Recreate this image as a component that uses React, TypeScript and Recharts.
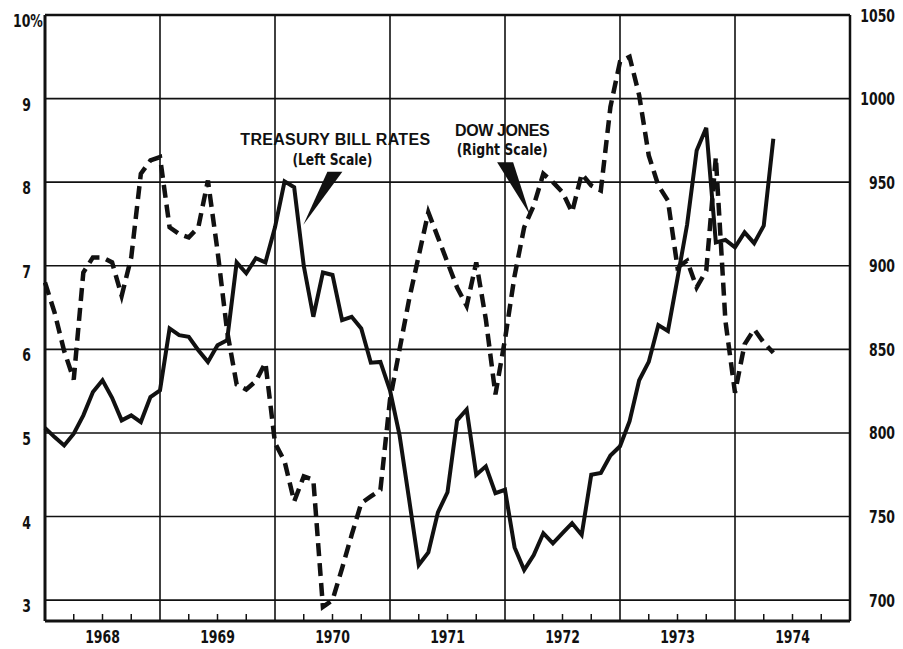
import { LineChart, Line, XAxis, YAxis, ReferenceLine, ReferenceDot } from 'recharts'

// monthly readings, Jan 1968 .. May 1974
const years = ['1968', '1969', '1970', '1971', '1972', '1973', '1974']

const treasuryRates = [
  5.06, 4.95, 4.85, 4.99, 5.21, 5.49, 5.63, 5.42, 5.15, 5.21, 5.13, 5.43,
  5.51, 6.25, 6.17, 6.15, 5.99, 5.85, 6.05, 6.11, 7.04, 6.91, 7.09, 7.04,
  7.46, 8.01, 7.94, 7.0, 6.39, 6.92, 6.89, 6.35, 6.39, 6.25, 5.84, 5.85,
  5.51, 4.97, 4.2, 3.42, 3.57, 4.05, 4.29, 5.15, 5.28, 4.5, 4.6, 4.28,
  4.32, 3.63, 3.36, 3.54, 3.8, 3.68, 3.8, 3.92, 3.78, 4.5, 4.52, 4.73,
  4.84, 5.14, 5.63, 5.85, 6.29, 6.22, 6.85, 7.49, 8.38, 8.65, 7.28, 7.31,
  7.22, 7.4, 7.27, 7.48, 8.52,
]

const dowJones = [
  890, 872, 849, 832, 896, 905, 905, 902, 882, 905, 955, 963,
  965, 923, 919, 917, 923, 951, 909, 861, 829, 826, 831, 842,
  794, 783, 759, 774, 772, 696, 700, 719, 739, 758, 762, 766,
  820, 850, 880, 906, 932, 917, 902, 887, 876, 902, 868, 823,
  856, 894, 923, 936, 955, 950, 944, 932, 955, 948, 945, 995,
  1022, 1025, 1002, 966, 948, 939, 899, 903, 887, 897, 965, 867,
  824, 853, 862, 854, 848,
]

const leftTicks = [3, 4, 5, 6, 7, 8, 9, 10]
const rightTicks = [700, 750, 800, 850, 900, 950, 1000, 1050]
const yearStarts = [12, 24, 36, 48, 60, 72]
const quarterTicks = Array.from({ length: 29 }, (_, i) => i * 3)

const data = treasuryRates.map((rate, month) => ({ month, rate, dow: dowJones[month] }))

const INK = '#111'
const SQUEEZE = 0.77
const axisFont = {
  fontFamily: "'DejaVu Sans Condensed', 'DejaVu Sans', sans-serif",
  fontWeight: 700,
  fontSize: 18,
  fill: INK,
}
const noteFont = {
  fontFamily: "'Liberation Sans', Arial, sans-serif",
  fontWeight: 700,
  fontSize: 16,
  fill: INK,
}
const subFont = { ...axisFont, fontSize: 16 }

// squeeze the digits to the narrow typewriter-like width of the original
const Narrow = ({ x, y, anchor, children }: any) => (
  <text transform={`translate(${x},${y}) scale(${SQUEEZE},1)`} textAnchor={anchor} style={axisFont}>
    {children}
  </text>
)

const MonthTick = ({ x, y, payload }: any) => {
  const m = payload.value
  const inYear = m % 12
  return (
    <g>
      {inYear !== 0 && <line x1={x} x2={x} y1={y - 7} y2={y} stroke={INK} strokeWidth={1.5} />}
      {inYear === 6 && (
        <Narrow x={x} y={y + 22} anchor="middle">
          {years[Math.floor(m / 12)]}
        </Narrow>
      )}
    </g>
  )
}

const LeftTick = ({ x, y, payload }: any) =>
  payload.value === 10 ? (
    <Narrow x={x - 32} y={y + 12} anchor="start">
      {payload.value}%
    </Narrow>
  ) : (
    <Narrow x={x - 14} y={y + 12} anchor="end">
      {payload.value}
    </Narrow>
  )

const RightTick = ({ x, y, payload }: any) => (
  <Narrow x={x + 45} y={y + 6.5} anchor="end">
    {payload.value}
  </Narrow>
)

const TreasuryNote = ({ cx, cy }: any) => (
  <g>
    <text x={cx} y={cy + 6} textAnchor="middle" style={noteFont} letterSpacing={0.3}>
      TREASURY BILL RATES
    </text>
    <text
      x={cx - 3}
      y={cy + 26}
      textAnchor="middle"
      style={subFont}
      textLength={80}
      lengthAdjust="spacingAndGlyphs"
    >
      (Left Scale)
    </text>
    <polygon points={`${cx - 8},${cy + 33} ${cx + 7},${cy + 33} ${cx - 32},${cy + 86}`} fill={INK} />
  </g>
)

const DowNote = ({ cx, cy }: any) => (
  <g>
    <text x={cx} y={cy + 6} textAnchor="middle" style={noteFont} letterSpacing={-0.4}>
      DOW JONES
    </text>
    <text
      x={cx}
      y={cy + 25}
      textAnchor="middle"
      style={subFont}
      textLength={91}
      lengthAdjust="spacingAndGlyphs"
    >
      (Right Scale)
    </text>
    <polygon points={`${cx - 5},${cy + 32} ${cx + 11},${cy + 32} ${cx + 28},${cy + 85}`} fill={INK} />
  </g>
)

export default function App() {
  return (
    <div style={{ position: 'absolute', left: 0, top: 0, width: 903, height: 649, background: '#fff' }}>
      <LineChart width={903} height={649} data={data} margin={{ top: 15, right: 0, bottom: 0, left: 0 }}>
        <XAxis
          dataKey="month"
          type="number"
          domain={[0, 84]}
          ticks={quarterTicks}
          interval={0}
          height={28}
          tickSize={0}
          tickMargin={0}
          tickLine={false}
          axisLine={{ stroke: INK, strokeWidth: 3 }}
          tick={<MonthTick />}
        />
        <YAxis
          yAxisId="left"
          orientation="left"
          width={45}
          domain={[2.75, 10]}
          ticks={leftTicks}
          interval={0}
          tickSize={0}
          tickMargin={0}
          tickLine={false}
          axisLine={{ stroke: INK, strokeWidth: 3 }}
          tick={<LeftTick />}
        />
        <YAxis
          yAxisId="right"
          orientation="right"
          width={53}
          domain={[687.5, 1050]}
          ticks={rightTicks}
          interval={0}
          tickSize={0}
          tickMargin={0}
          tickLine={false}
          axisLine={{ stroke: INK, strokeWidth: 2.5 }}
          tick={<RightTick />}
        />
        {leftTicks.map((v) => (
          <ReferenceLine
            key={`h${v}`}
            yAxisId="left"
            y={v}
            stroke={INK}
            strokeWidth={v === 10 ? 2.5 : 1.6}
          />
        ))}
        {yearStarts.map((m) => (
          <ReferenceLine key={`v${m}`} yAxisId="left" x={m} stroke={INK} strokeWidth={1.6} />
        ))}
        <Line
          yAxisId="left"
          type="linear"
          dataKey="rate"
          stroke={INK}
          strokeWidth={4}
          strokeLinejoin="miter"
          dot={false}
          isAnimationActive={false}
        />
        <Line
          yAxisId="right"
          type="linear"
          dataKey="dow"
          stroke={INK}
          strokeWidth={4.5}
          strokeDasharray="13 7"
          dot={false}
          isAnimationActive={false}
        />
        <ReferenceDot yAxisId="left" x={30.3} y={8.52} r={0} shape={<TreasuryNote />} />
        <ReferenceDot yAxisId="left" x={47.7} y={8.62} r={0} shape={<DowNote />} />
      </LineChart>
    </div>
  )
}
